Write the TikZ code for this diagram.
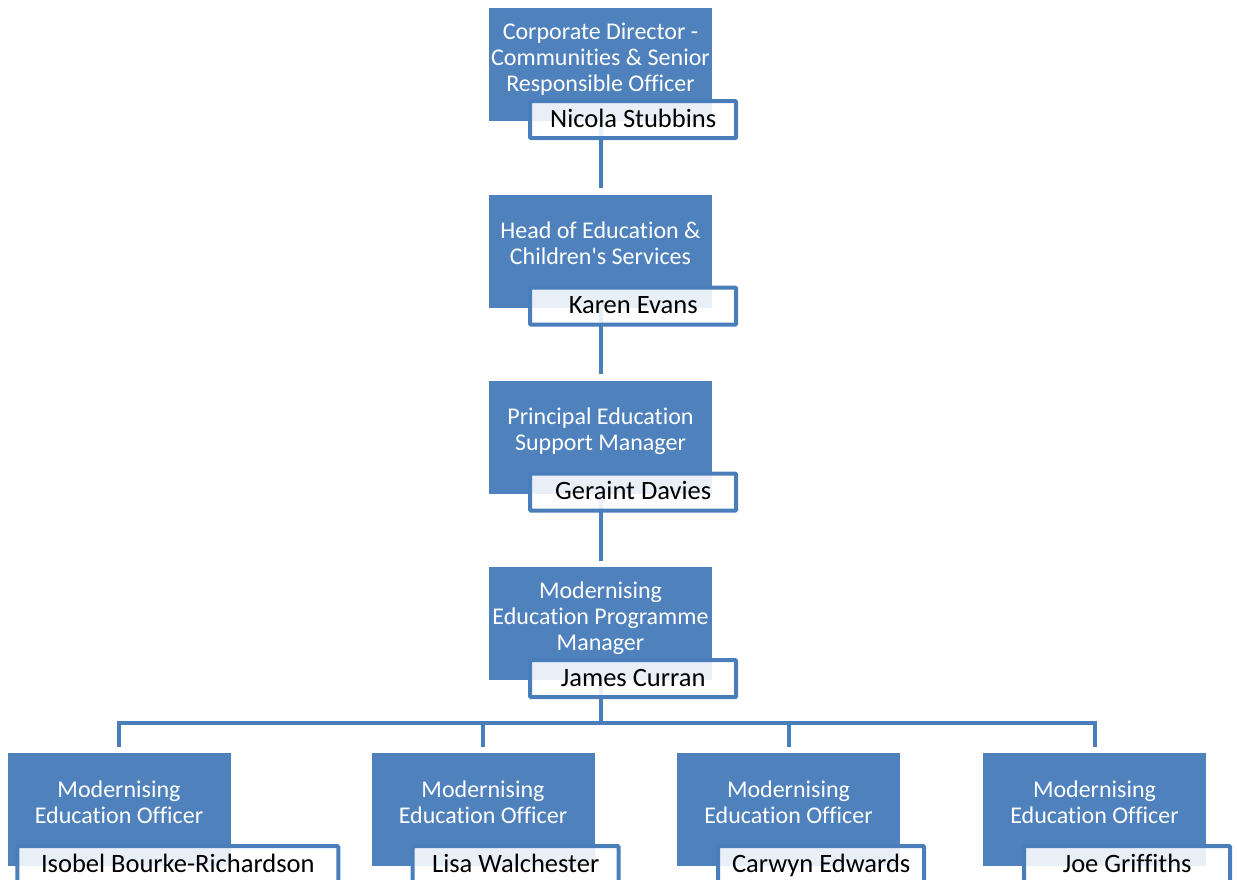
\documentclass[tikz,border=0pt]{standalone}
\usepackage{fontspec}
\setmainfont{Carlito}[Ligatures={TeXOff,NoCommon}]
\usetikzlibrary{positioning,backgrounds}
\definecolor{boxblue}{HTML}{4F81BD}
\definecolor{lineblue}{HTML}{4A7EBB}

\begin{document}
\begin{tikzpicture}[%
    x=1pt,
    y=-1pt,
    post/.style={%
      rectangle,
      fill=boxblue,
      minimum width=223pt,
      minimum height=113pt,
      inner sep=0pt
    },
    posttext/.style={%
      text=white,
      align=center,
      text depth=5pt,
      font=\fontsize{24}{26}\selectfont
    },
    holder/.style={%
      rectangle,
      draw=lineblue,
      line width=4pt,
      rounded corners=1pt,
      fill=white,
      fill opacity=0.88,
      text opacity=1,
      minimum width=206pt,
      minimum height=37pt,
      inner sep=0pt,
      text height=17pt,
      text depth=2pt,
      font=\fontsize{26.5}{28}\selectfont
    },
    link/.style={%
      draw=lineblue,
      line width=4pt,
      shorten >=6pt
    }
  ]
  \useasboundingbox (0,0) rectangle (1237,880);
  \clip (0,0) rectangle (1237,880);
  % Nodes:
    \node[post] (cd) at (600.5,64.5) {};
    \node[posttext] at ([yshift=5pt]cd.center) {Corporate Director -\\Communities \& Senior\\Responsible Officer};
    \node[holder, anchor=north east] (ns) at ([xshift=26pt,yshift=22pt]cd.south east) {Nicola Stubbins};

    \node[post] (hes) at (600.5,251) {};
    \node[posttext] at ([yshift=5pt]hes.center) {Head of Education \&\\Children's Services};
    \node[holder, anchor=north east] (ke) at ([xshift=26pt,yshift=22pt]hes.south east) {Karen Evans};

    \node[post] (pesm) at (600.5,437) {};
    \node[posttext] at ([yshift=5pt]pesm.center) {Principal Education\\Support Manager};
    \node[holder, anchor=north east] (gd) at ([xshift=26pt,yshift=22pt]pesm.south east) {Geraint Davies};

    \node[post] (mepm) at (600.5,623.5) {};
    \node[posttext] at ([yshift=5pt]mepm.center) {Modernising\\Education Programme\\Manager};
    \node[holder, anchor=north east] (jc) at ([xshift=26pt,yshift=22pt]mepm.south east) {James Curran};

    \node[post] (meoA) at (119,809.5) {};
    \node[posttext] at ([yshift=5pt]meoA.center) {Modernising\\Education Officer};
    \node[holder, anchor=north west, minimum width=321pt] (ibr) at ([xshift=8pt,yshift=22pt]meoA.south west) {Isobel Bourke-Richardson};

    \node[post] (meoB) at (483,809.5) {};
    \node[posttext] at ([yshift=5pt]meoB.center) {Modernising\\Education Officer};
    \node[holder, anchor=north east] (lw) at ([xshift=26pt,yshift=22pt]meoB.south east) {Lisa Walchester};

    \node[post] (meoC) at (788.5,809.5) {};
    \node[posttext] at ([yshift=5pt]meoC.center) {Modernising\\Education Officer};
    \node[holder, anchor=north east] (ce) at ([xshift=26pt,yshift=22pt]meoC.south east) {Carwyn Edwards};

    \node[post] (meoD) at (1094.5,809.5) {};
    \node[posttext] at ([yshift=5pt]meoD.center) {Modernising\\Education Officer};
    \node[holder, anchor=north east] (jg) at ([xshift=26pt,yshift=22pt]meoD.south east) {Joe Griffiths};

    \coordinate (bus) at (600.5,723);
  % Paths:
  \begin{scope}[on background layer]
    \draw[link] (cd.center) -- (hes.north);
    \draw[link] (hes.center) -- (pesm.north);
    \draw[link] (pesm.center) -- (mepm.north);
    \draw[link, shorten >=0pt] (mepm.center) -- (bus);
    \draw[link] (bus) -| (meoA.north);
    \draw[link] (bus) -| (meoB.north);
    \draw[link] (bus) -| (meoC.north);
    \draw[link] (bus) -| (meoD.north);
  \end{scope}
\end{tikzpicture}
\end{document}
